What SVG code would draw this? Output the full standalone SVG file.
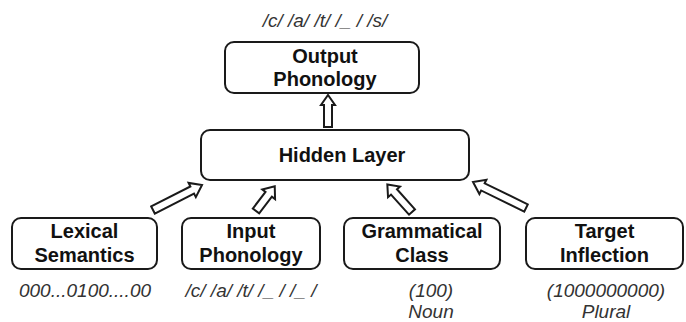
<svg xmlns="http://www.w3.org/2000/svg" width="686" height="322" viewBox="0 0 686 322">
<style>
.box{fill:#fff;stroke:#1a1a1a;stroke-width:2}
.t{font-family:"Liberation Sans",Arial,sans-serif;font-weight:bold;font-size:20px;fill:#111;text-anchor:middle}
.l{font-family:"Liberation Sans",Arial,sans-serif;font-style:italic;font-size:19px;fill:#333;text-anchor:middle}
.arr{fill:#fff;stroke:#1a1a1a;stroke-width:2;stroke-linejoin:miter}
</style>
<rect width="686" height="322" fill="#fff"/>
<text class="l" x="325" y="27">/c/ /a/ /t/ /_ / /s/</text>
<g id="output">
<rect class="box" x="225" y="42" width="194" height="51" rx="9"/>
<text class="t" x="325" y="63">Output</text>
<text class="t" x="325" y="86">Phonology</text>
</g>
<g id="hidden">
<rect class="box" x="201" y="130" width="268" height="50" rx="9"/>
<text class="t" x="342" y="162">Hidden Layer</text>
</g>
<g id="lexical">
<rect class="box" x="12" y="218" width="145" height="51" rx="9"/>
<text class="t" x="84.5" y="238">Lexical</text>
<text class="t" x="84.5" y="262">Semantics</text>
<text class="l" x="85" y="297">000...0100....00</text>
</g>
<g id="input">
<rect class="box" x="182" y="218" width="138" height="51" rx="9"/>
<text class="t" x="251" y="238">Input</text>
<text class="t" x="251" y="262">Phonology</text>
<text class="l" x="251" y="297">/c/ /a/ /t/ /_ / /_ /</text>
</g>
<g id="grammatical">
<rect class="box" x="344" y="218" width="156" height="51" rx="9"/>
<text class="t" x="422" y="238">Grammatical</text>
<text class="t" x="422" y="262">Class</text>
<text class="l" x="431" y="297">(100)</text>
<text class="l" x="431" y="318">Noun</text>
</g>
<g id="target">
<rect class="box" x="526" y="218" width="157" height="51" rx="9"/>
<text class="t" x="604.5" y="238">Target</text>
<text class="t" x="604.5" y="262">Inflection</text>
<text class="l" x="606" y="297">(1000000000)</text>
<text class="l" x="606" y="318">Plural</text>
</g>
<g id="connectors">
<polygon class="arr" transform="translate(328,127) rotate(-90)" points="0,-4 22,-4 22,-7 32,0 22,7 22,4 0,4"/>
<polygon class="arr" transform="translate(153,210) rotate(-27)" points="0,-4 44,-4 44,-8 55,0 44,8 44,4 0,4"/>
<polygon class="arr" transform="translate(256,211) rotate(-52.8)" points="0,-4 21,-4 21,-8 31,0 21,8 21,4 0,4"/>
<polygon class="arr" transform="translate(412,212) rotate(-131.8)" points="0,-4 27,-4 27,-8 37,0 27,8 27,4 0,4"/>
<polygon class="arr" transform="translate(526,208) rotate(-153.9)" points="0,-4 48,-4 48,-8 59,0 48,8 48,4 0,4"/>
</g>
</svg>
